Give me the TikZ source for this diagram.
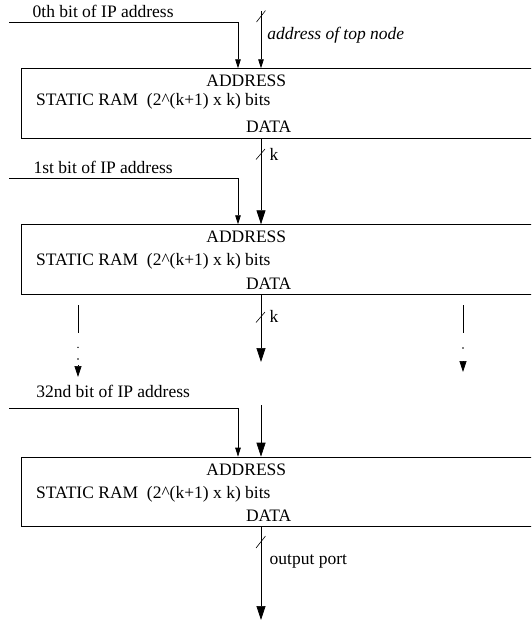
\documentclass[tikz,border=0pt]{standalone}
\usepackage{fontspec}
\setmainfont{Liberation Serif}
\usetikzlibrary{arrows.meta}
\begin{document}
\begin{tikzpicture}[x=1pt,y=-1pt, line width=0.7pt,
  ram/.style={draw, rectangle, minimum width=530pt, minimum height=70pt, anchor=north west, inner sep=0pt},
  lbl/.style={inner sep=0pt, anchor=base west, font=\fontsize{17.5}{20}\selectfont},
  clbl/.style={inner sep=0pt, anchor=base, font=\fontsize{17.5}{20}\selectfont},
  big/.style={-{Triangle[length=14pt,width=9pt]}},
  small/.style={-{Triangle[length=9pt,width=5.5pt]}},
  mid/.style={-{Triangle[length=11pt,width=7pt]}},
  slash/.style={line width=0.6pt}
  ]
\useasboundingbox (0,0) rectangle (531,622);
\clip (0,0) rectangle (531,622);

% boxes
\node[ram] (ram1) at (20.7,68.3) {};
\node[ram] (ram2) at (20.7,224.3) {};
\node[ram, minimum height=69.3pt] (ram3) at (20.7,456.7) {};

% box texts
\node[clbl] (a1) at (246.3,86) {ADDRESS};
\node[lbl]  (s1) at (35.7,105.3) {STATIC RAM\ \ (2\^{}(k+1) x k) bits};
\node[clbl] (d1) at (268.7,132.3) {DATA};
\node[clbl] (a2) at (246.3,242.3) {ADDRESS};
\node[lbl]  (s2) at (35.7,265.5) {STATIC RAM\ \ (2\^{}(k+1) x k) bits};
\node[clbl] (d2) at (268.7,289) {DATA};
\node[clbl] (a3) at (246.3,475) {ADDRESS};
\node[lbl]  (s3) at (35.7,498.8) {STATIC RAM\ \ (2\^{}(k+1) x k) bits};
\node[clbl] (d3) at (268.7,521.7) {DATA};

% bit inputs
\node[lbl] (b0) at (32.3,17.5) {0th bit of IP address};
\node[lbl] (b1) at (33.3,173.3) {1st bit of IP address};
\node[lbl] (b32) at (36,397.3) {32nd bit of IP address};

\coordinate (b0s) at (9.3,22.3);
\coordinate (b0c) at (238,22.3);
\coordinate (b0e) at (238,68.3);
\draw[small] (b0s) -- (b0c) -- (b0e);

\coordinate (b1s) at (9.3,178.3);
\coordinate (b1c) at (238,178.3);
\coordinate (b1e) at (238,224.3);
\draw[small] (b1s) -- (b1c) -- (b1e);

\coordinate (b32s) at (9.3,408.3);
\coordinate (b32c) at (238,408.3);
\coordinate (b32e) at (238,456.7);
\draw[small] (b32s) -- (b32c) -- (b32e);

% address of top node
\coordinate (tns) at (261,11);
\coordinate (tne) at (261,68.3);
\draw[small] (tns) -- (tne);
\draw[slash] (256.5,22) -- (265.5,10.5);
\node[lbl, font=\fontsize{17.5}{20}\selectfont\itshape] (tn) at (267,39.5) {address of top node};

% data 1 -> ram2
\coordinate (k1s) at (261,138.3);
\coordinate (k1e) at (261,224.3);
\draw[big] (k1s) -- (k1e);
\draw[slash] (256,159.5) -- (265,149);
\node[lbl] (k1) at (269.3,160.7) {k};

% data 2 -> down
\coordinate (k2s) at (261,294);
\coordinate (k2e) at (261,362);
\draw[big] (k2s) -- (k2e);
\draw[slash] (256,322.5) -- (265,312);
\node[lbl] (k2) at (269.3,322) {k};

% continuation into ram3
\coordinate (k3s) at (261,405);
\coordinate (k3e) at (261,456.7);
\draw[big] (k3s) -- (k3e);

% side dotted arrows
\coordinate (l1) at (78,305);
\coordinate (l2) at (78,333);
\coordinate (l3) at (78,365);
\coordinate (l4) at (78,377);
\draw (l1) -- (l2);
\fill (78,347.3) circle (0.8pt) (78,359) circle (0.8pt);
\draw[mid] (l3) -- (l4);

\coordinate (r1) at (463,305);
\coordinate (r2) at (463,333);
\coordinate (r3) at (463,361);
\coordinate (r4) at (463,372);
\draw (r1) -- (r2);
\fill (463,348) circle (0.8pt);
\draw[mid] (r3) -- (r4);

% output
\coordinate (os) at (261,526);
\coordinate (oe) at (261,620);
\draw[big] (os) -- (oe);
\draw[slash] (256,548) -- (265.5,536);
\node[lbl] (op) at (269.3,564) {output port};
\end{tikzpicture}
\end{document}
